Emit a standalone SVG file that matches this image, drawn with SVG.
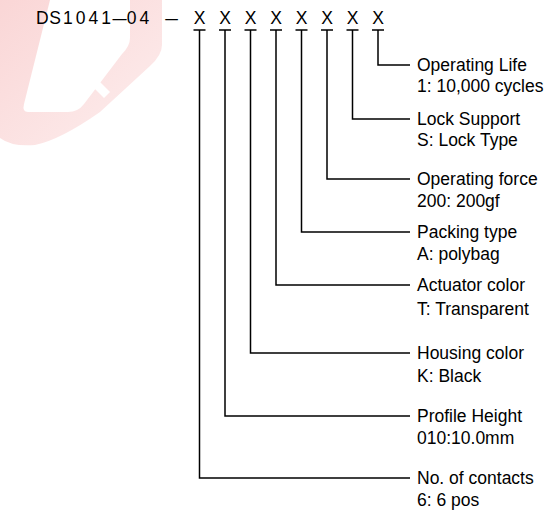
<svg xmlns="http://www.w3.org/2000/svg" width="551" height="518" viewBox="0 0 551 518">
<style>
.hdr{font-family:"Liberation Sans",Arial,sans-serif;font-size:17.5px;fill:#000;text-anchor:middle}
.lbl{font-family:"Liberation Sans",Arial,sans-serif;font-size:17.5px;fill:#000}
.con{fill:none;stroke:#000;stroke-width:1.5}
</style>
<defs>
<linearGradient id="wm" x1="0" y1="0" x2="1" y2="1">
<stop offset="0" stop-color="#fad6d6"/>
<stop offset="1" stop-color="#fdeeee"/>
</linearGradient>
</defs>
<g id="watermark">
<path fill="url(#wm)" fill-rule="evenodd" d="M0 0 H162 V45 Q162 55 150 66 L100 112 Q60 140 35 145 Q12 147 0 138 Z M50 0 H130 V38 Q130 46 122 54 L84 104 Q78 112 68 112 H28 Q22 112 24 104 Z"/>
<path fill="#ffffff" d="M98 80 L110 92 L104 98 L92 86 Z"/>
</g>
<g id="header">
<text class="hdr" x="42.4 55.1 67.9 80.6 93.4" y="24">DS104</text>
<text class="hdr" x="106.1" y="24">1</text>
<text class="hdr" transform="translate(119.5 24) scale(1.45 1)" x="0" y="0">–</text>
<text class="hdr" x="131.6 144.4" y="24">04</text>
<text class="hdr" transform="translate(171.5 24) scale(1.3 1)" x="0" y="0">–</text>
<text class="hdr" x="199.5 225 250.5 276 301.5 327 352.5 378" y="24">XXXXXXXX</text>
</g>
<g id="connectors">
<path class="con" d="M193.5 30 H205.5 M199.5 30 V478 H410"/>
<path class="con" d="M219 30 H231 M225 30 V416 H410"/>
<path class="con" d="M244.5 30 H256.5 M250.5 30 V353 H410"/>
<path class="con" d="M270 30 H282 M276 30 V285 H410"/>
<path class="con" d="M295.5 30 H307.5 M301.5 30 V232 H410"/>
<path class="con" d="M321 30 H333 M327 30 V179 H410"/>
<path class="con" d="M346.5 30 H358.5 M352.5 30 V119 H410"/>
<path class="con" d="M372 30 H384 M378 30 V65 H410"/>
</g>
<g id="node-life"><text class="lbl" x="417" y="71">Operating Life</text><text class="lbl" x="417" y="92">1: 10,000 cycles</text></g>
<g id="node-lock"><text class="lbl" x="417" y="125">Lock Support</text><text class="lbl" x="417" y="146">S: Lock Type</text></g>
<g id="node-force"><text class="lbl" x="417" y="185">Operating force</text><text class="lbl" x="417" y="207">200: 200gf</text></g>
<g id="node-packing"><text class="lbl" x="417" y="238">Packing type</text><text class="lbl" x="417" y="260">A: polybag</text></g>
<g id="node-actuator"><text class="lbl" x="417" y="291">Actuator color</text><text class="lbl" x="417" y="315">T: Transparent</text></g>
<g id="node-housing"><text class="lbl" x="417" y="359">Housing color</text><text class="lbl" x="417" y="382">K: Black</text></g>
<g id="node-profile"><text class="lbl" x="417" y="422">Profile Height</text><text class="lbl" x="417" y="444">010:10.0mm</text></g>
<g id="node-contacts"><text class="lbl" x="417" y="484">No. of contacts</text><text class="lbl" x="417" y="506">6: 6 pos</text></g>
</svg>
